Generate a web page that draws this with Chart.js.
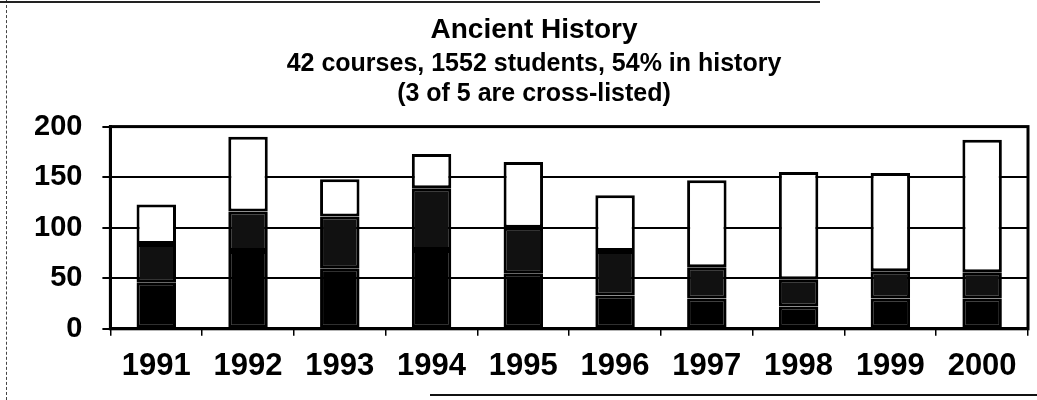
<!DOCTYPE html>
<html>
<head>
<meta charset="utf-8">
<script src="https://cdn.jsdelivr.net/npm/chart.js@4"></script>
<style>
  html, body { margin: 0; padding: 0; background: #fff; }
  #wrap { position: relative; width: 1037px; height: 400px; }
  canvas { position: absolute; left: 0; top: 0; }
  .scan-left { position: absolute; left: 6px; top: 0; width: 0; height: 400px; border-left: 1px dashed #444; }
  .scan-top { position: absolute; left: 0; top: 1px; width: 820px; height: 0; border-top: 2px solid #222; }
  .scan-bottom { position: absolute; left: 430px; top: 394px; width: 607px; height: 0; border-top: 2px solid #111; }
</style>
</head>
<body>
<div id="wrap">
  <canvas id="c" width="1037" height="400"></canvas>
  <div class="scan-left"></div>
  <div class="scan-top"></div>
  <div class="scan-bottom"></div>
</div>
<script>
const years = ['1991','1992','1993','1994','1995','1996','1997','1998','1999','2000'];
// stacked segments (students)
const bottomSeg = [46, 77, 60, 78, 55, 33, 30, 22, 30, 30];
const middleSeg = [38, 39, 51, 61, 45, 44, 31, 27, 27, 26];
const topSeg    = [39, 74, 37, 34, 65, 55, 86, 106, 97, 131];
const yTicks = [0, 50, 100, 150, 200];

const titleText = 'Ancient History';
const subtitleLines = ['42 courses, 1552 students, 54% in history', '(3 of 5 are cross-listed)'];

const FONT = "'Liberation Sans', Arial, sans-serif";

const frame = {
  id: 'frame',
  afterLayout(chart) {
    // shift title blocks slightly right to match the original centring
    chart.boxes.forEach(b => {
      if (b.options && b.options.text !== undefined && !b.axis) { b.left += 13; b.right += 13; }
    });
  },
  afterDraw(chart) {
    const a = chart.chartArea, ctx = chart.ctx;
    ctx.save();
    ctx.strokeStyle = '#000';
    ctx.lineWidth = 3;
    ctx.strokeRect(a.left, a.top, a.right - a.left, a.bottom - a.top);
    ctx.restore();
  }
};

const common = { borderColor: '#000', borderWidth: 3, borderSkipped: false,
                 barPercentage: 0.43, categoryPercentage: 1.0 };

new Chart(document.getElementById('c'), {
  type: 'bar',
  data: {
    labels: years,
    datasets: [
      Object.assign({ label: 'Segment 1', data: bottomSeg, backgroundColor: '#000' }, common),
      Object.assign({ label: 'Segment 2', data: middleSeg, backgroundColor: '#111' }, common),
      Object.assign({ label: 'Segment 3', data: topSeg, backgroundColor: '#fff' }, common)
    ]
  },
  plugins: [frame],
  options: {
    responsive: false,
    animation: false,
    devicePixelRatio: 1,
    layout: { padding: { left: 14, right: 9, top: 13, bottom: 3 } },
    plugins: {
      legend: { display: false },
      tooltip: { enabled: false },
      title: {
        display: true, text: titleText, color: '#000',
        font: { family: FONT, size: 28, weight: 'bold' },
        padding: { top: 0, bottom: 0 }
      },
      subtitle: {
        display: true, text: subtitleLines, color: '#000',
        font: { family: FONT, size: 25, weight: 'bold', lineHeight: 1.22 },
        padding: { top: 2, bottom: 17 }
      }
    },
    scales: {
      x: {
        stacked: true,
        offset: true,
        grid: { display: true, drawOnChartArea: false, offset: true, color: '#000', lineWidth: 1.5, tickLength: 7 },
        border: { display: true, color: '#000', width: 3 },
        ticks: { color: '#000', font: { family: FONT, size: 31, weight: 'bold' }, padding: 12, maxRotation: 0, autoSkip: false }
      },
      y: {
        stacked: true,
        min: 0, max: 200,
        afterBuildTicks(axis) { axis.ticks = yTicks.map(v => ({ value: v })); },
        grid: { color: '#000', lineWidth: 2, tickLength: 8 },
        border: { display: true, color: '#000', width: 3 },
        ticks: { color: '#000', font: { family: FONT, size: 29, weight: 'bold' }, padding: 20 }
      }
    }
  }
});
</script>
</body>
</html>
